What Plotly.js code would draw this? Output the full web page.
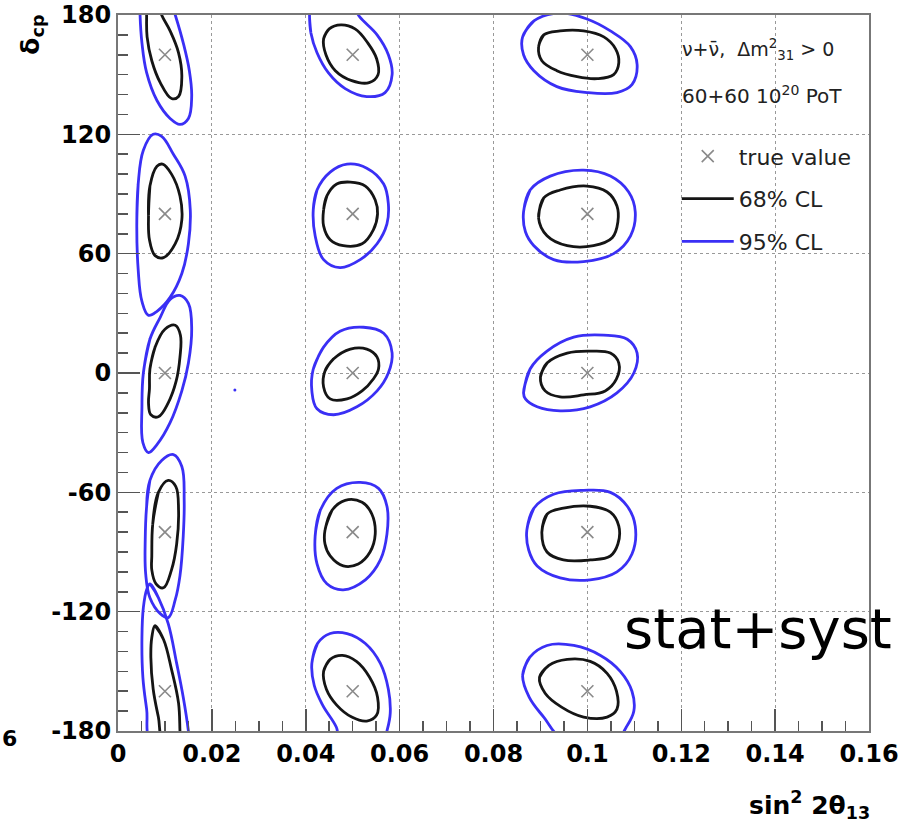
<!DOCTYPE html>
<html>
<head>
<meta charset="utf-8">
<script src="https://cdn.plot.ly/plotly-3.0.1.min.js"></script>
<style>html,body{margin:0;padding:0;background:#fff;}#chart{width:913px;height:829px;}</style>
</head>
<body>
<div id="chart"></div>
<script>
// True values of (sin^2 2theta13, delta_cp)
const trueSin2 = [0.01, 0.05, 0.1];
const trueDelta = [160, 80, 0, -80, -160];

// Tick labels
const xTickVals = [0, 0.02, 0.04, 0.06, 0.08, 0.1, 0.12, 0.14, 0.16];
const xTickText = ['0', '0.02', '0.04', '0.06', '0.08', '0.1', '0.12', '0.14', '0.16'];
const yTickVals = [-180, -120, -60, 0, 60, 120, 180];
const yTickText = ['-180', '-120', '-60', '0', '60', '120', '180'];

// 68% CL contours, column sin^2 = 0.01 (delta = 160, 80, 0, -80, -160)
const cl68_s001 = [
  [[0.0061,184],[0.0061,180],[0.0062,169],[0.0072,157],[0.0090,146],[0.0114,138],[0.0129,139],[0.0136,149],[0.0129,161],[0.0111,172],[0.0093,180],[0.0088,184]],
  [[0.0065,79],[0.0068,94],[0.0083,104],[0.0095,105],[0.0114,100],[0.0132,89],[0.0136,77],[0.0122,65],[0.0097,58],[0.0079,59],[0.0067,67]],
  [[0.0068,2],[0.0079,13],[0.0100,22],[0.0122,24],[0.0133,19],[0.0132,8],[0.0124,-4],[0.0107,-15],[0.0086,-22],[0.0070,-21],[0.0065,-15],[0.0067,-8]],
  [[0.0074,-76],[0.0086,-60],[0.0107,-54],[0.0123,-57],[0.0129,-69],[0.0125,-86],[0.0114,-99],[0.0097,-108],[0.0081,-106],[0.0072,-99],[0.0072,-92]],
  [[0.0079,-127],[0.0097,-134],[0.0114,-149],[0.0129,-166],[0.0132,-180],[0.0133,-185],[0.0097,-185],[0.0086,-173],[0.0075,-159],[0.0070,-143],[0.0072,-133]]
];
// 95% CL contours, column sin^2 = 0.01
const cl95_s001 = [
  [[0.0047,185],[0.0047,180],[0.0051,166],[0.0061,151],[0.0083,137],[0.0111,128],[0.0132,125],[0.0150,128],[0.0157,139],[0.0152,152],[0.0139,166],[0.0122,180],[0.0115,185]],
  [[0.0040,74],[0.0043,95],[0.0054,112],[0.0075,120],[0.0093,119],[0.0118,110],[0.0143,99],[0.0154,82],[0.0150,65],[0.0136,50],[0.0111,38],[0.0083,31],[0.0065,29],[0.0051,36],[0.0043,52]],
  [[0.0054,0],[0.0068,17],[0.0090,28],[0.0111,37],[0.0132,39],[0.0150,35],[0.0157,22],[0.0150,5],[0.0136,-9],[0.0111,-25],[0.0083,-36],[0.0065,-40],[0.0053,-35],[0.0051,-17]],
  [[0.0061,-67],[0.0068,-54],[0.0093,-44],[0.0118,-41],[0.0136,-47],[0.0141,-64],[0.0139,-82],[0.0132,-102],[0.0122,-114],[0.0107,-123],[0.0090,-121],[0.0068,-113],[0.0059,-101],[0.0058,-84]],
  [[0.0068,-106],[0.0086,-113],[0.0107,-126],[0.0125,-146],[0.0139,-163],[0.0150,-180],[0.0152,-185],[0.0071,-185],[0.0061,-169],[0.0053,-153],[0.0051,-133],[0.0054,-118],[0.0061,-109]]
];
// 68% CL contours, column sin^2 = 0.05
const cl68_s005 = [
  [[0.0438,168],[0.0450,173],[0.0475,175],[0.0505,173],[0.0532,166],[0.0551,158],[0.0554,150],[0.0535,146],[0.0498,147],[0.0463,152],[0.0443,160]],
  [[0.0438,82],[0.0445,89],[0.0466,95],[0.0495,96],[0.0527,94],[0.0548,87],[0.0553,80],[0.0544,72],[0.0520,65],[0.0480,64],[0.0452,67],[0.0438,74]],
  [[0.0441,1],[0.0459,7],[0.0495,12],[0.0530,12],[0.0552,8],[0.0555,2],[0.0544,-3],[0.0520,-9],[0.0488,-13],[0.0452,-13],[0.0438,-7]],
  [[0.0441,-79],[0.0456,-69],[0.0484,-64],[0.0520,-65],[0.0541,-71],[0.0548,-81],[0.0537,-90],[0.0512,-96],[0.0480,-97],[0.0452,-92],[0.0441,-86]],
  [[0.0438,-150],[0.0452,-144],[0.0478,-142],[0.0508,-145],[0.0536,-153],[0.0553,-163],[0.0551,-172],[0.0530,-175],[0.0498,-173],[0.0466,-167],[0.0444,-159]]
];
// 95% CL contours, column sin^2 = 0.05
const cl95_s005 = [
  [[0.0408,180],[0.0411,171],[0.0424,161],[0.0448,151],[0.0484,143],[0.0530,139],[0.0569,141],[0.0584,150],[0.0576,160],[0.0552,170],[0.0515,179],[0.0495,186],[0.0410,186]],
  [[0.0416,82],[0.0424,92],[0.0452,101],[0.0488,105],[0.0530,103],[0.0566,95],[0.0576,85],[0.0573,75],[0.0552,65],[0.0516,57],[0.0473,53],[0.0438,57],[0.0420,69]],
  [[0.0416,2],[0.0438,13],[0.0473,21],[0.0523,23],[0.0566,20],[0.0584,10],[0.0576,0],[0.0552,-9],[0.0509,-17],[0.0459,-21],[0.0424,-18],[0.0413,-9]],
  [[0.0420,-82],[0.0431,-69],[0.0466,-58],[0.0516,-55],[0.0555,-58],[0.0573,-67],[0.0573,-81],[0.0559,-94],[0.0527,-104],[0.0480,-109],[0.0445,-106],[0.0424,-96]],
  [[0.0413,-146],[0.0425,-136],[0.0452,-131],[0.0488,-131],[0.0527,-136],[0.0559,-146],[0.0576,-159],[0.0580,-171],[0.0573,-180],[0.0565,-186],[0.0475,-186],[0.0465,-178],[0.0436,-167],[0.0418,-157]]
];
// 68% CL contours, column sin^2 = 0.1
const cl68_s010 = [
  [[0.0896,164],[0.0907,170],[0.0942,172],[0.0992,172],[0.1035,169],[0.1060,163],[0.1067,156],[0.1056,150],[0.1021,148],[0.0978,149],[0.0935,152],[0.0903,157]],
  [[0.0896,78],[0.0907,88],[0.0942,92],[0.0999,94],[0.1042,91],[0.1063,84],[0.1065,76],[0.1053,68],[0.1013,64],[0.0957,64],[0.0914,69]],
  [[0.0900,-2],[0.0914,5],[0.0957,10],[0.1006,11],[0.1049,10],[0.1067,5],[0.1062,-3],[0.1038,-9],[0.0992,-11],[0.0942,-12],[0.0910,-9]],
  [[0.0903,-80],[0.0914,-71],[0.0949,-68],[0.1006,-67],[0.1049,-70],[0.1067,-77],[0.1065,-86],[0.1049,-92],[0.1006,-94],[0.0949,-94],[0.0914,-90]],
  [[0.0898,-153],[0.0918,-147],[0.0957,-144],[0.1006,-145],[0.1042,-151],[0.1062,-160],[0.1063,-169],[0.1042,-173],[0.0992,-173],[0.0945,-168],[0.0910,-161]]
];
// 95% CL contours, column sin^2 = 0.1
const cl95_s010 = [
  [[0.0862,169],[0.0886,177],[0.0942,181],[0.0999,178],[0.1049,172],[0.1092,164],[0.1106,155],[0.1095,145],[0.1063,141],[0.0999,141],[0.0935,144],[0.0886,152],[0.0864,160]],
  [[0.0864,81],[0.0878,92],[0.0921,99],[0.0992,102],[0.1049,99],[0.1088,91],[0.1102,81],[0.1092,69],[0.1056,60],[0.0992,56],[0.0928,57],[0.0886,64],[0.0868,71]],
  [[0.0864,-10],[0.0878,2],[0.0914,11],[0.0971,18],[0.1035,19],[0.1085,17],[0.1106,10],[0.1099,0],[0.1063,-10],[0.1006,-17],[0.0942,-19],[0.0893,-17],[0.0868,-13]],
  [[0.0871,-79],[0.0886,-68],[0.0928,-61],[0.0992,-59],[0.1049,-60],[0.1085,-67],[0.1102,-77],[0.1095,-91],[0.1063,-100],[0.1006,-104],[0.0942,-103],[0.0893,-97],[0.0875,-89]],
  [[0.0862,-152],[0.0877,-143],[0.0914,-137],[0.0971,-137],[0.1028,-142],[0.1070,-150],[0.1095,-160],[0.1099,-170],[0.1083,-178],[0.1063,-184],[0.0949,-184],[0.0907,-173],[0.0876,-163]]
];
// stray 95% contour pixel
const strayX = [0.0249];
const strayY = [-8.5];

function loopsToXY(groups) {
  const xs = [], ys = [];
  groups.forEach(loops => loops.forEach(l => {
    l.forEach(p => { xs.push(p[0]); ys.push(p[1]); });
    // close smoothly by overlapping the first two points
    xs.push(l[0][0]); ys.push(l[0][1]);
    xs.push(l[1][0]); ys.push(l[1][1]);
    xs.push(null); ys.push(null);
  }));
  return {xs, ys};
}

const c95 = loopsToXY([cl95_s001, cl95_s005, cl95_s010]);
const c68 = loopsToXY([cl68_s001, cl68_s005, cl68_s010]);
const tX = [], tY = [];
trueSin2.forEach(s => trueDelta.forEach(d => { tX.push(s); tY.push(d); }));

const BLUE = '#3a2ff5';
const traces = [
  {x: c95.xs, y: c95.ys, type: 'scatter', mode: 'lines', name: '95% CL', legendgroup: 'c', legendrank: 3,
   line: {color: BLUE, width: 2.8, shape: 'spline', smoothing: 1.1}, connectgaps: false, hoverinfo: 'skip'},
  {x: strayX, y: strayY, type: 'scatter', mode: 'markers', showlegend: false,
   marker: {color: BLUE, size: 3}, hoverinfo: 'skip'},
  {x: c68.xs, y: c68.ys, type: 'scatter', mode: 'lines', name: '68% CL', legendgroup: 'b', legendrank: 2,
   line: {color: '#151515', width: 2.8, shape: 'spline', smoothing: 1.1}, connectgaps: false, hoverinfo: 'skip'},
  {x: tX, y: tY, type: 'scatter', mode: 'markers', name: 'true value', legendgroup: 'a', legendrank: 1,
   marker: {symbol: 'x-thin', size: 12, color: '#8a8a8a', line: {width: 1.6, color: '#8a8a8a'}}}
];

const tickFont = {family: 'DejaVu Sans', size: 24, color: '#000', weight: 'bold'};
const layout = {
  width: 913, height: 829,
  margin: {l: 118, r: 44, t: 15, b: 98, pad: 0},
  paper_bgcolor: '#fff', plot_bgcolor: '#fff',
  showlegend: true,
  legend: {x: 0.744, y: 0.832, xanchor: 'left', yanchor: 'top', bgcolor: 'rgba(0,0,0,0)',
           itemwidth: 52,
           font: {family: 'DejaVu Sans', size: 22, color: '#222'}, traceorder: 'grouped', tracegroupgap: 11},
  xaxis: {range: [0, 0.16], tickmode: 'array', tickvals: xTickVals, ticktext: xTickText,
          ticks: 'inside', ticklen: 22, tickwidth: 1.5, tickcolor: '#555',
          showline: true, linecolor: '#777', linewidth: 2, mirror: true,
          showgrid: true, gridcolor: '#999', griddash: 'dot', gridwidth: 1,
          zeroline: false, tickfont: tickFont,
          minor: {tickmode: 'linear', tick0: 0, dtick: 0.005, ticks: 'inside', ticklen: 10, tickwidth: 1.5, tickcolor: '#555', showgrid: false}},
  yaxis: {range: [-180, 180], tickmode: 'array', tickvals: yTickVals, ticktext: yTickText,
          ticks: 'inside', ticklen: 22, tickwidth: 1.5, tickcolor: '#555',
          showline: true, linecolor: '#777', linewidth: 2, mirror: true,
          showgrid: true, gridcolor: '#999', griddash: 'dot', gridwidth: 1,
          zeroline: false, tickfont: tickFont,
          minor: {tickmode: 'linear', tick0: 0, dtick: 10, ticks: 'inside', ticklen: 10, tickwidth: 1.5, tickcolor: '#555', showgrid: false}},
  annotations: [
    {text: 'δ<sub>cp</sub>', textangle: -90, xref: 'paper', yref: 'paper', x: -0.115, y: 0.972,
     xanchor: 'center', yanchor: 'middle', showarrow: false,
     font: {family: 'DejaVu Sans', size: 25, color: '#000', weight: 'bold'}},
    {text: 'sin<sup>2</sup> 2θ<sub>13</sub>', xref: 'paper', yref: 'paper', x: 1.004, y: -0.103,
     xanchor: 'right', yanchor: 'middle', showarrow: false,
     font: {family: 'DejaVu Sans', size: 25, color: '#000', weight: 'bold'}},
    {text: 'ν+ν̄,  Δm<sup>2</sup><sub>31</sub> > 0', xref: 'paper', yref: 'paper', x: 0.748, y: 0.952,
     xanchor: 'left', yanchor: 'middle', showarrow: false,
     font: {family: 'DejaVu Sans', size: 19, color: '#222'}},
    {text: '60+60 10<sup>20</sup> PoT', xref: 'paper', yref: 'paper', x: 0.748, y: 0.888,
     xanchor: 'left', yanchor: 'middle', showarrow: false,
     font: {family: 'DejaVu Sans', size: 20, color: '#222'}},
    {text: 'stat+syst', xref: 'paper', yref: 'paper', x: 0.671, y: 0.143,
     xanchor: 'left', yanchor: 'middle', showarrow: false,
     font: {family: 'DejaVu Sans', size: 56, color: '#000'}},
    {text: '6', xref: 'paper', yref: 'paper', x: -0.157, y: -0.01,
     xanchor: 'left', yanchor: 'middle', showarrow: false,
     font: {family: 'DejaVu Sans', size: 22, color: '#000', weight: 'bold'}}
  ]
};

Plotly.newPlot('chart', traces, layout, {displayModeBar: false, staticPlot: true});
</script>
</body>
</html>
